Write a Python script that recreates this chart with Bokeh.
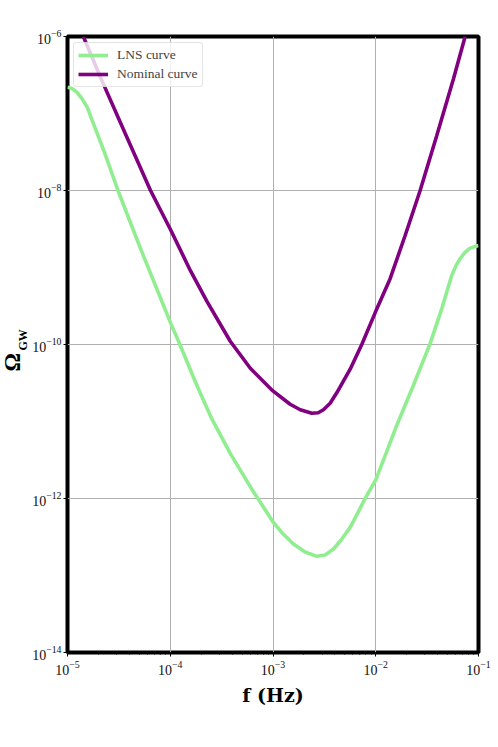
import numpy as np
from bokeh.plotting import figure
from bokeh.layouts import row
from bokeh.models import FixedTicker, LogTickFormatter, Legend, LegendItem, ColumnDataSource, Range1d
from bokeh.core.properties import value
from bokeh.embed import file_html
from bokeh.resources import INLINE

# LNS curve: log10(f/Hz) and log10(Omega_GW)
lns_logf = [-5.000, -4.953, -4.905, -4.856, -4.807, -4.759, -4.710, -4.632, -4.509, -4.290,
            -3.998, -3.900, -3.754, -3.594, -3.412, -3.217, -3.001, -2.901, -2.801, -2.687,
            -2.573, -2.493, -2.411, -2.337, -2.249, -2.181, -2.103, -2.001, -1.899, -1.795,
            -1.633, -1.471, -1.357, -1.260, -1.218, -1.179, -1.131, -1.082, -1.000]
lns_logo = [-6.658, -6.677, -6.729, -6.813, -6.920, -7.092, -7.261, -7.533, -8.000, -8.752,
            -9.716, -10.019, -10.490, -10.970, -11.424, -11.856, -12.302, -12.462, -12.591, -12.695,
            -12.751, -12.734, -12.656, -12.539, -12.375, -12.202, -11.999, -11.761, -11.411, -11.048,
            -10.529, -9.988, -9.534, -9.102, -8.973, -8.886, -8.804, -8.748, -8.713]

# Nominal curve
nom_logf = [-4.846, -4.661, -4.438, -4.192, -3.998, -3.805, -3.643, -3.416, -3.221, -3.001,
            -2.833, -2.735, -2.622, -2.560, -2.509, -2.444, -2.378, -2.249, -2.135, -1.999,
            -1.860, -1.714, -1.568, -1.406, -1.244, -1.130]
nom_logo = [-6.000, -6.586, -7.261, -8.000, -8.506, -9.038, -9.440, -9.958, -10.309, -10.603,
            -10.776, -10.847, -10.892, -10.886, -10.847, -10.763, -10.624, -10.321, -9.997, -9.566,
            -9.145, -8.584, -8.000, -7.287, -6.551, -6.000]

x_ticks = [1e-5, 1e-4, 1e-3, 1e-2, 1e-1]
y_ticks = [1e-14, 1e-12, 1e-10, 1e-8, 1e-6]
series_names = ["LNS curve", "Nominal curve"]
series_colors = ["#90ee90", "#800080"]

lns = ColumnDataSource(dict(f=10 ** np.array(lns_logf), o=10 ** np.array(lns_logo)))
nom = ColumnDataSource(dict(f=10 ** np.array(nom_logf), o=10 ** np.array(nom_logo)))

SERIF = "Liberation Serif"

p = figure(width=469, height=708, x_axis_type="log", y_axis_type="log",
           x_range=(1e-5, 1e-1), y_range=(1e-14, 1e-6),
           output_backend="svg", toolbar_location=None,
           min_border_left=38, min_border_right=20, min_border_top=36, min_border_bottom=55)

r1 = p.line("f", "o", source=lns, line_color=series_colors[0], line_width=3.6)
r2 = p.line("f", "o", source=nom, line_color=series_colors[1], line_width=3.6)

minor = [k * 10.0 ** e for e in range(-5, -1) for k in range(2, 10)]
p.xaxis.ticker = FixedTicker(ticks=x_ticks, minor_ticks=minor)
p.yaxis.ticker = FixedTicker(ticks=y_ticks, minor_ticks=[])
p.xaxis.formatter = LogTickFormatter()
p.yaxis.formatter = LogTickFormatter()

for ax in (p.xaxis[0], p.yaxis[0]):
    ax.axis_line_color = None
    ax.major_tick_line_color = "black"
    ax.major_tick_out = 4
    ax.major_tick_in = 0
    ax.minor_tick_line_color = "black"
    ax.minor_tick_out = 2
    ax.minor_tick_in = 0
    ax.major_label_text_font = SERIF
    ax.major_label_text_font_size = "14px"
    ax.major_label_text_color = "#111111"

p.xaxis.axis_label = "f (Hz)"
p.xaxis.axis_label_text_font = "DejaVu Serif"
p.xaxis.axis_label_text_font_style = "bold"
p.xaxis.axis_label_text_font_size = "19px"
p.xaxis.axis_label_text_color = "black"
p.xaxis.axis_label_standoff = 6
p.xaxis.major_label_standoff = 4
p.yaxis.major_label_standoff = 2

p.xgrid.ticker = FixedTicker(ticks=x_ticks)
p.ygrid.ticker = FixedTicker(ticks=y_ticks)
p.grid.grid_line_color = "#b0b0b0"
p.grid.grid_line_width = 1

p.outline_line_color = "black"
p.outline_line_width = 4
p.outline_line_alpha = 1

legend = Legend(items=[LegendItem(label=series_names[0], renderers=[r1]),
                       LegendItem(label=series_names[1], renderers=[r2])],
                location="top_left")
legend.label_text_font = SERIF
legend.label_text_font_size = "13.5px"
legend.border_line_color = "#cccccc"
legend.border_line_width = 1
legend.background_fill_alpha = 0.8
legend.glyph_width = 30
legend.glyph_height = 16
legend.label_height = 16
legend.label_standoff = 9
legend.spacing = 3
legend.padding = 4
legend.margin = 6
legend.border_radius = 3
p.add_layout(legend)

# narrow side panel carrying the y-axis title (Omega with subscript GW)
side = figure(width=29, height=708, y_axis_type="log",
              x_range=Range1d(0, 1), y_range=p.y_range,
              output_backend="svg", toolbar_location=None,
              x_axis_location=None, y_axis_location=None,
              min_border_left=0, min_border_right=0, min_border_top=36, min_border_bottom=55)
side.grid.visible = False
side.outline_line_color = None
side.text(x=[0.43], y=[10 ** -10.231], text=["Ω"], angle=np.pi / 2,
          text_align="center", text_baseline="middle", text_font=value(SERIF),
          text_font_style="bold", text_font_size="23px", text_color="black")
side.text(x=[0.79], y=[10 ** -9.939], text=["GW"], angle=np.pi / 2,
          text_align="center", text_baseline="middle", text_font=value(SERIF),
          text_font_style="bold", text_font_size="12px", text_color="black")

layout = row(side, p, spacing=0)
open("out.html", "w").write(file_html(layout, INLINE))
